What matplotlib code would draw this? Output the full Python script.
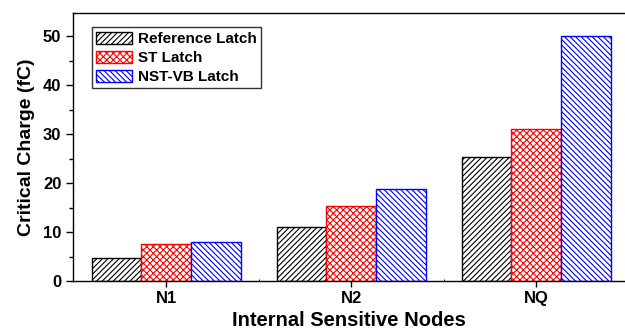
import numpy as np
import matplotlib.pyplot as plt

plt.rcParams['font.family'] = ['Liberation Sans', 'DejaVu Sans']
plt.rcParams['font.weight'] = 'bold'
plt.rcParams['hatch.linewidth'] = 0.8

# data
nodes = ["N1", "N2", "NQ"]
series = ["Reference Latch", "ST Latch", "NST-VB Latch"]
ref_latch = [4.7, 11.0, 25.3]
st_latch = [7.5, 15.3, 31.1]
nstvb_latch = [8.0, 18.8, 50.0]

colors = ["black", "red", "blue"]
hatches = ["//////", "xxxxx", "\\\\\\\\\\\\"]

fig, ax = plt.subplots(figsize=(6.25, 3.35), dpi=100)
fig.subplots_adjust(left=0.117, right=1.0, top=0.961, bottom=0.161)

x = np.arange(len(nodes))
w = 0.268
for i, (vals, c, h, name) in enumerate(zip([ref_latch, st_latch, nstvb_latch], colors, hatches, series)):
    ax.bar(x + (i - 1) * w, vals, w, facecolor="white", edgecolor=c,
           hatch=h, linewidth=1.0, label=name)

ax.set_xlim(-0.503, 2.48)
ax.set_ylim(0, 54.7)
ax.set_xticks(x)
ax.set_xticklabels(nodes, fontsize=12, fontweight="bold")
ax.set_xticks([0.5, 1.5], minor=True)
ax.set_yticks([0, 10, 20, 30, 40, 50])
ax.set_yticks([5, 15, 25, 35, 45], minor=True)
ax.tick_params(axis="y", labelsize=12, direction="out", length=5, width=1)
ax.tick_params(axis="y", which="minor", length=3, width=1)
ax.tick_params(axis="x", direction="out", length=4, width=1)
ax.tick_params(axis="x", which="minor", direction="in", length=1.5, width=0.6)
ax.set_ylabel("Critical Charge (fC)", fontsize=14, fontweight="bold", labelpad=6)
ax.set_xlabel("Internal Sensitive Nodes", fontsize=14.5, fontweight="bold", labelpad=3)
for s in ax.spines.values():
    s.set_linewidth(1.0)
ax.spines["right"].set_visible(False)

leg = ax.legend(loc="upper left", bbox_to_anchor=(0.034, 0.948), fontsize=11,
                frameon=True, fancybox=False, edgecolor="black",
                handlelength=2.3, handleheight=0.85, handletextpad=0.4,
                labelspacing=0.3, borderpad=0.3, borderaxespad=0)
leg.get_frame().set_linewidth(1.0)

fig.savefig("out.png", dpi=100)
